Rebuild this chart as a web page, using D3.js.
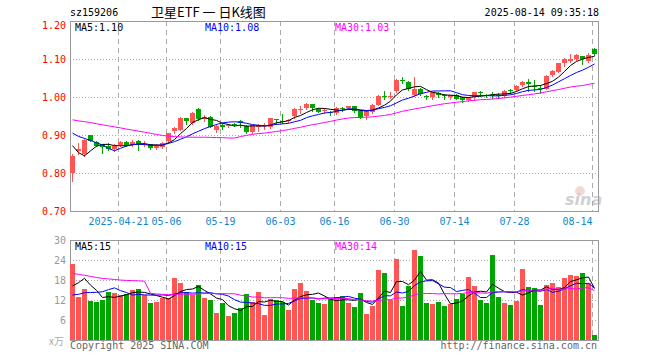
<!DOCTYPE html>
<html lang="zh-CN">
<head>
<meta charset="utf-8">
<title>卫星ETF 日K线图</title>
<style>
  body { margin: 0; background: #fff; }
  svg text { font-family: 'DejaVu Sans Mono', monospace; font-size: 10px; }
</style>
<script src="https://d3js.org/d3.v7.min.js"></script>
</head>
<body>
<svg id="chart" width="660" height="360"></svg>
<script>
var code = "sz159206";
var title = "卫星ETF 一 日K线图";
var stamp = "2025-08-14 09:35:18";

// daily candles, 2025-04-09 .. 2025-08-14
var open = [0.800,0.858,0.849,0.899,0.882,0.875,0.872,0.863,0.874,0.882,
            0.874,0.885,0.874,0.875,0.866,0.869,0.883,0.910,0.914,0.945,
            0.932,0.968,0.943,0.948,0.912,0.925,0.926,0.929,0.938,0.923,
            0.909,0.922,0.924,0.921,0.942,0.937,0.938,0.949,0.966,0.971,
            0.981,0.968,0.963,0.961,0.958,0.970,0.971,0.975,0.964,0.949,
            0.961,0.980,1.002,1.000,1.016,1.046,1.040,1.004,1.022,1.003,
            1.000,1.011,1.004,1.000,1.006,0.999,0.993,1.000,1.014,1.005,
            1.006,1.006,1.002,1.018,1.019,1.031,1.039,1.028,1.023,1.022,
            1.057,1.067,1.090,1.094,1.100,1.107,1.096,1.127];
var high = [0.850,0.880,0.890,0.900,0.884,0.877,0.878,0.877,0.884,0.883,
            0.887,0.886,0.885,0.876,0.875,0.882,0.906,0.922,0.947,0.946,
            0.960,0.970,0.952,0.950,0.928,0.932,0.930,0.931,0.940,0.925,
            0.926,0.930,0.931,0.946,0.943,0.955,0.942,0.972,0.976,0.983,
            0.982,0.972,0.972,0.964,0.973,0.974,0.976,0.976,0.965,0.965,
            0.982,1.004,1.015,1.013,1.047,1.052,1.042,1.052,1.024,1.006,
            1.013,1.014,1.007,1.006,1.007,1.000,1.001,1.014,1.016,1.007,
            1.013,1.010,1.018,1.020,1.031,1.041,1.048,1.045,1.032,1.057,
            1.072,1.090,1.103,1.113,1.113,1.109,1.116,1.128];
var low = [0.780,0.850,0.846,0.883,0.870,0.853,0.860,0.857,0.872,0.870,
           0.872,0.861,0.872,0.864,0.862,0.865,0.880,0.904,0.912,0.930,
           0.930,0.940,0.938,0.920,0.908,0.915,0.920,0.923,0.921,0.905,
           0.905,0.910,0.915,0.918,0.930,0.932,0.935,0.946,0.958,0.969,
           0.962,0.960,0.958,0.952,0.956,0.962,0.969,0.961,0.946,0.943,
           0.959,0.978,0.995,0.998,1.014,1.036,1.018,1.002,1.005,0.995,
           0.996,1.001,0.995,0.995,0.994,0.988,0.990,0.991,1.003,1.000,
           0.998,0.997,1.000,1.010,1.017,1.029,1.016,1.016,1.010,1.020,
           1.054,1.066,1.082,1.092,1.097,1.088,1.092,1.110];
var close = [0.846,0.862,0.888,0.885,0.872,0.869,0.863,0.872,0.882,0.872,
             0.882,0.874,0.877,0.866,0.870,0.879,0.905,0.919,0.945,0.936,
             0.959,0.942,0.947,0.921,0.923,0.921,0.926,0.928,0.932,0.909,
             0.925,0.925,0.926,0.944,0.941,0.937,0.940,0.969,0.969,0.981,
             0.972,0.961,0.966,0.958,0.971,0.968,0.975,0.962,0.948,0.963,
             0.980,1.002,0.999,1.002,1.045,1.045,1.021,1.021,1.008,1.001,
             1.012,1.005,1.002,1.004,0.996,0.991,1.000,1.013,1.011,1.004,
             1.004,1.005,1.017,1.017,1.030,1.039,1.034,1.026,1.022,1.056,
             1.069,1.089,1.100,1.100,1.110,1.100,1.111,1.113];
// volume, 万手
var volume = [22.9,13.0,15.3,11.8,11.5,12.1,14.4,14.1,13.6,13.8,
              15.1,15.4,13.5,11.2,11.5,12.6,12.7,18.7,17.2,14.5,
              13.4,16.5,12.7,12.1,8.2,11.1,7.3,8.2,9.6,13.8,
              11.5,14.5,7.6,12.2,12.0,11.4,9.1,15.3,17.2,14.8,
              12.1,11.1,10.8,12.3,12.8,13.2,11.2,10.0,14.1,7.8,
              10.2,21.0,20.2,12.0,24.3,10.2,16.3,27.0,25.2,11.1,
              10.8,11.4,10.2,10.8,12.3,13.8,18.9,16.2,12.0,11.1,
              25.5,12.9,11.1,10.5,11.7,21.3,15.9,15.6,10.5,16.5,
              17.1,15.9,18.6,19.5,19.2,20.1,17.1,1.5];

// the 29 sessions before the first candle (not drawn, only feed the MA lines)
var preClose = [0.945,0.950,0.958,0.962,0.955,0.948,0.952,0.960,0.966,0.963,
                0.958,0.954,0.957,0.962,0.960,0.956,0.958,0.965,0.962,0.958,
                0.948,0.942,0.938,0.933,0.928,0.955,0.930,0.820,0.810];
var preVolume = [24,23,22,21,20.5,19,19,18.6,17.5,17,
                 17,17,120,17,16,15.5,16.5,15,15.4,15,
                 11,10.5,11.2,10.8,10.5,8,8.8,22,19.3];

var tickIndex = [8, 16, 25, 35, 44, 54, 64, 74, 87];
var tickLabel = ["2025-04-21", "05-06", "05-19", "06-03", "06-16", "06-30", "07-14", "07-28", "08-14"];
var priceTicks = [0.70, 0.80, 0.90, 1.00, 1.10, 1.20];
var volTicks = [6, 12, 18, 24, 30];

var maDays = [5, 10, 30];
var maColor = ["#000000", "#0000ff", "#ff00ff"];
var red = "#ff5555", green = "#00a600", gridColor = "#aaaaaa";

function movingAvg(pre, arr, k) {
  var all = pre.concat(arr);
  return arr.map(function (d, i) {
    var j = i + pre.length;
    return d3.mean(all.slice(j - k + 1, j + 1));
  });
}
function isUp(i) {
  if (close[i] != open[i]) return close[i] > open[i];
  var prev = i > 0 ? close[i - 1] : preClose[preClose.length - 1];
  return close[i] >= prev;
}

var svg = d3.select("#chart");
var n = close.length;
var left = 70, right = 598;
var pTop = 21, pBottom = 211, vTop = 240, vBottom = 340;

var x = d3.scaleLinear().domain([0, n]).range([left, right]);
var y = d3.scaleLinear().domain([0.70, 1.20]).range([pBottom, pTop]);
var yv = d3.scaleLinear().domain([0, 30]).range([vBottom, vTop]);
var mid = function (i) { return x(i) + 2.5; };

// header
svg.append("text").attr("x", 70).attr("y", 16).text(code);
svg.append("text").attr("x", 151).attr("y", 17)
  .style("font-family", "'Noto Sans CJK SC', sans-serif").style("font-size", "13px")
  .text(title);
svg.append("text").attr("x", 599).attr("y", 16).attr("text-anchor", "end").text(stamp);

// grid
function hGrid(scale, vals, x0, x1) {
  svg.append("g").selectAll("line").data(vals).join("line")
    .attr("x1", x0).attr("x2", x1)
    .attr("y1", function (d) { return Math.round(scale(d)) + 0.5; })
    .attr("y2", function (d) { return Math.round(scale(d)) + 0.5; })
    .attr("stroke", gridColor).attr("stroke-dasharray", "1,2");
}
function vGrid(y0, y1) {
  svg.append("g").selectAll("line").data(tickIndex).join("line")
    .attr("x1", function (d) { return x(d) + 0.5; })
    .attr("x2", function (d) { return x(d) + 0.5; })
    .attr("y1", y0).attr("y2", y1)
    .attr("stroke", gridColor).attr("stroke-dasharray", "5,4");
}
hGrid(y, [0.80, 0.90, 1.00, 1.10], left, right);
hGrid(yv, [6, 12, 18, 24], left, right);
vGrid(pTop, pBottom);
vGrid(vTop, vBottom);

// frames
svg.append("rect").attr("x", left + 0.5).attr("y", pTop + 0.5)
  .attr("width", right - left).attr("height", pBottom - pTop)
  .attr("fill", "none").attr("stroke", "#999");
svg.append("rect").attr("x", left + 0.5).attr("y", vTop + 0.5)
  .attr("width", right - left).attr("height", vBottom - vTop)
  .attr("fill", "none").attr("stroke", "#999");

// axes
var pAxis = svg.append("g").attr("transform", "translate(" + left + ",0)")
  .call(d3.axisLeft(y).tickValues(priceTicks).tickSize(0).tickPadding(4).tickFormat(d3.format(".2f")));
pAxis.select(".domain").remove();
pAxis.selectAll("text").attr("fill", "#ff0000").style("font-size", "10px")
  .style("font-family", "'DejaVu Sans Mono', monospace");
pAxis.selectAll(".tick").filter(function (d) { return d == 1.20; })
  .select("text").attr("dy", "0.72em");

var vAxis = svg.append("g").attr("transform", "translate(" + left + ",0)")
  .call(d3.axisLeft(yv).tickValues(volTicks).tickSize(0).tickPadding(4));
vAxis.select(".domain").remove();
vAxis.selectAll("text").attr("fill", "#999").style("font-size", "10px")
  .style("font-family", "'DejaVu Sans Mono', monospace");
svg.append("text").attr("x", 49).attr("y", 345).attr("fill", "#aaa")
  .style("font-family", "'Noto Sans CJK SC', sans-serif").style("font-size", "10px").text("x万");

var dAxis = svg.append("g").attr("transform", "translate(0," + pBottom + ")")
  .call(d3.axisBottom(x).tickValues(tickIndex).tickSize(0).tickPadding(7)
    .tickFormat(function (d) { return tickLabel[tickIndex.indexOf(d)]; }));
dAxis.select(".domain").remove();
dAxis.selectAll("text").attr("fill", "#1088d0").style("font-size", "10px")
  .style("font-family", "'DejaVu Sans Mono', monospace");
dAxis.selectAll(".tick").filter(function (d) { return d == tickIndex[tickIndex.length - 1]; })
  .select("text").attr("text-anchor", "end");

// watermark
var wm = svg.append("g").attr("opacity", 0.55);
wm.append("circle").attr("cx", 580).attr("cy", 191).attr("r", 4.5)
  .attr("fill", "#f3b3b3").attr("stroke", "#ccc");
wm.append("text").attr("x", 565).attr("y", 205)
  .style("font-family", "'DejaVu Sans', sans-serif").style("font-size", "16px")
  .style("font-style", "italic").style("font-weight", "bold")
  .attr("fill", "#aaa").text("sina");

// candles
var candles = svg.append("g").selectAll("g").data(close).join("g");
candles.append("line")
  .attr("x1", function (d, i) { return mid(i); })
  .attr("x2", function (d, i) { return mid(i); })
  .attr("y1", function (d, i) { return Math.round(y(high[i])); })
  .attr("y2", function (d, i) { return Math.round(y(low[i])) + 1; })
  .attr("stroke", function (d, i) { return isUp(i) ? red : green; });
candles.append("rect")
  .attr("x", function (d, i) { return x(i); })
  .attr("width", 5)
  .attr("y", function (d, i) { return Math.round(y(Math.max(open[i], close[i]))); })
  .attr("height", function (d, i) {
    return Math.max(1, Math.round(y(Math.min(open[i], close[i]))) - Math.round(y(Math.max(open[i], close[i]))));
  })
  .attr("fill", function (d, i) { return isUp(i) ? red : green; });

// volume bars
svg.append("g").selectAll("rect").data(volume).join("rect")
  .attr("x", function (d, i) { return x(i); })
  .attr("width", 5)
  .attr("y", function (d) { return Math.round(yv(d)); })
  .attr("height", function (d) { return vBottom - Math.round(yv(d)); })
  .attr("fill", function (d, i) { return isUp(i) ? red : green; });

// moving averages
var line = d3.line().x(function (d, i) { return mid(i); });
var labelX = [75, 205, 335];
maDays.forEach(function (k, j) {
  var pm = movingAvg(preClose, close, k);
  var vm = movingAvg(preVolume, volume, k);
  svg.append("path").attr("d", line.y(function (d) { return y(d); })(pm))
    .attr("fill", "none").attr("stroke", maColor[j]).attr("stroke-width", 1);
  svg.append("path").attr("d", line.y(function (d) { return yv(d); })(vm))
    .attr("fill", "none").attr("stroke", maColor[j]).attr("stroke-width", 1);
  svg.append("text").attr("x", labelX[j]).attr("y", pTop + 10).attr("fill", maColor[j])
    .text("MA" + k + ":" + (Math.floor(pm[n - 1] * 100 + 1e-6) / 100).toFixed(2));
  svg.append("text").attr("x", labelX[j]).attr("y", vTop + 10).attr("fill", maColor[j])
    .text("MA" + k + ":" + Math.floor(vm[n - 1]));
});

// footer
svg.append("text").attr("x", 70).attr("y", 349).attr("fill", "#666").text("Copyright 2025 SINA.COM");
svg.append("text").attr("x", 597).attr("y", 349).attr("text-anchor", "end").attr("fill", "#666")
  .text("http://finance.sina.com.cn");
</script>
</body>
</html>
